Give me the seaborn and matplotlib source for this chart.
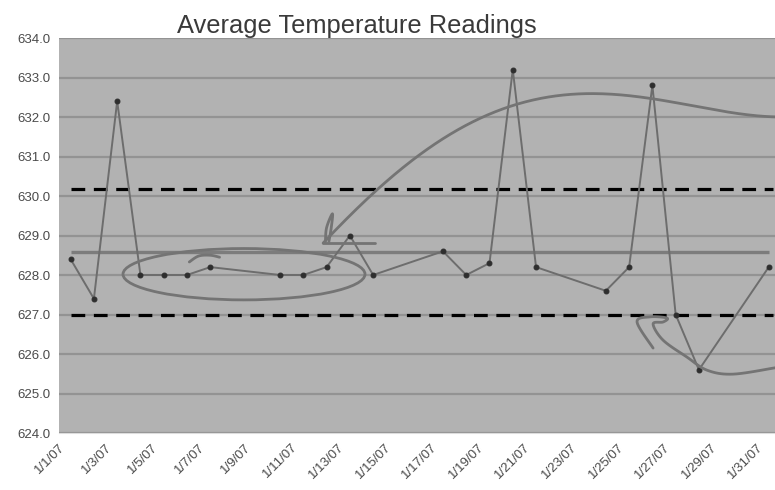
import numpy as np
import pandas as pd
import matplotlib
matplotlib.use("Agg")
import matplotlib.pyplot as plt
from matplotlib.patches import Ellipse
import seaborn as sns

# readings per day of January 2007 (gaps = no reading)
days = [1, 2, 3, 4, 5, 6, 7, 10, 11, 12, 13, 14, 17, 18, 19, 20, 21, 24, 25, 26, 27, 28, 31]
temps = [628.4, 627.4, 632.4, 628.0, 628.0, 628.0, 628.2, 628.0, 628.0, 628.2, 629.0, 628.0,
         628.6, 628.0, 628.3, 633.2, 628.2, 627.6, 628.2, 632.8, 627.0, 625.6, 628.2]
upper_limit = 630.17
lower_limit = 627.0
tick_days = list(range(1, 32, 2))
tick_labels = [f"1/{d}/07" for d in tick_days]
y_ticks = np.arange(624, 635, 1)

df = pd.DataFrame({"day": days, "temp": temps})
df["x"] = df["day"] - 0.5  # points sit between tick marks
mean_temp = df["temp"].mean()


def smooth(xs, ys, n=25):
    # catmull-rom through the given points, for the pen strokes
    p = np.column_stack([xs, ys])
    p = np.vstack([p[0], p, p[-1]])
    out = []
    for i in range(1, len(p) - 2):
        p0, p1, p2, p3 = p[i - 1], p[i], p[i + 1], p[i + 2]
        for t in np.linspace(0, 1, n, endpoint=False):
            out.append(0.5 * (2 * p1 + (-p0 + p2) * t + (2 * p0 - 5 * p1 + 4 * p2 - p3) * t ** 2
                              + (-p0 + 3 * p1 - 3 * p2 + p3) * t ** 3))
    out.append(p[-2])
    out = np.array(out)
    return out[:, 0], out[:, 1]


sns.set_style("white")
plt.rcParams["font.family"] = ["Liberation Sans", "DejaVu Sans"]

fig = plt.figure(figsize=(7.75, 4.9), dpi=100)
ax = fig.add_axes([59 / 775, 57 / 490, 716 / 775, 395 / 490])
ax.set_facecolor("#b2b2b2")

for y in y_ticks:
    ax.axhline(y, color="#939393", lw=1.6, zorder=1)

x0, x1 = df["x"].iloc[0], df["x"].iloc[-1]
ax.hlines(mean_temp, x0, x1, color="#7c7c7c", lw=2.4, zorder=2)
for lim in (upper_limit, lower_limit):
    ax.hlines(lim, x0, x1 + 0.2, color="black", lw=2.3, linestyles=(0, (4.3, 2.7)), zorder=3)

sns.lineplot(data=df, x="x", y="temp", ax=ax, color="#6d6d6d", lw=1.4,
             marker="o", markersize=3.5, markerfacecolor="#2e2e2e",
             markeredgecolor="#2e2e2e", zorder=4)

# hand-drawn annotations
ann = dict(color="#747474", lw=2.0, zorder=5, solid_capstyle="round", solid_joinstyle="round")
ax.add_patch(Ellipse((7.95, 628.02), 10.4, 1.30, fill=False, ec="#747474", lw=2.0, zorder=5))
arc_x = [11.35, 12.3, 13.24, 13.79, 15.94, 17.23, 18.09, 18.95, 19.81, 21.53, 22.95, 24.97, 26.69, 30.77]
arc_y = [628.81, 629.4, 629.9, 630.23, 631.22, 631.67, 632.0, 632.23, 632.35, 632.51,
         632.56, 632.53, 632.35, 632.0]
coef = np.polyfit(arc_x, arc_y, 4)
xs = np.linspace(arc_x[0], arc_x[-1], 300)
ax.plot(xs, np.polyval(coef, xs), **ann)
ax.plot([11.35, 13.58], [628.81, 628.81], **ann)
ax.plot(*smooth([11.45, 11.5, 11.75, 11.7, 11.6], [628.85, 629.2, 629.55, 629.2, 628.85], 8), **ann)
ax.plot(*smooth([25.53, 24.84, 25.40, 26.13, 25.96, 25.53, 25.96, 26.99, 27.85, 28.96, 30.77],
                [626.15, 626.81, 626.94, 626.91, 626.81, 626.76, 626.35, 625.92, 625.59, 625.49, 625.65],
                10), **ann)
ax.plot(*smooth([5.6, 6.0, 6.5, 6.9], [628.33, 628.48, 628.5, 628.45], 8), **ann)

ax.set_xlim(0, 716 / 23.27)
ax.set_ylim(624, 634)
ax.set_xticks([d - 1 for d in tick_days])
ax.set_xticklabels(tick_labels, rotation=45, ha="right", rotation_mode="anchor",
                   fontsize=9.5, color="#4a4a4a")
ax.set_yticks(y_ticks)
ax.set_yticklabels([f"{v:.1f}" for v in y_ticks], fontsize=9.5, color="#4a4a4a")
ax.tick_params(axis="x", length=4, color="#c8c8c8", pad=2)
ax.tick_params(axis="y", length=4, color="#c8c8c8", pad=2)
ax.set_xlabel("")
ax.set_ylabel("")
for s in ax.spines.values():
    s.set_visible(False)
ax.spines["bottom"].set_visible(True)
ax.spines["bottom"].set_color("#dddddd")

fig.text(357 / 775, 1 - 33 / 490, "Average Temperature Readings", ha="center",
         va="baseline", fontsize=18.4, color="#3a3a3a")

fig.savefig("out.png", dpi=100)
